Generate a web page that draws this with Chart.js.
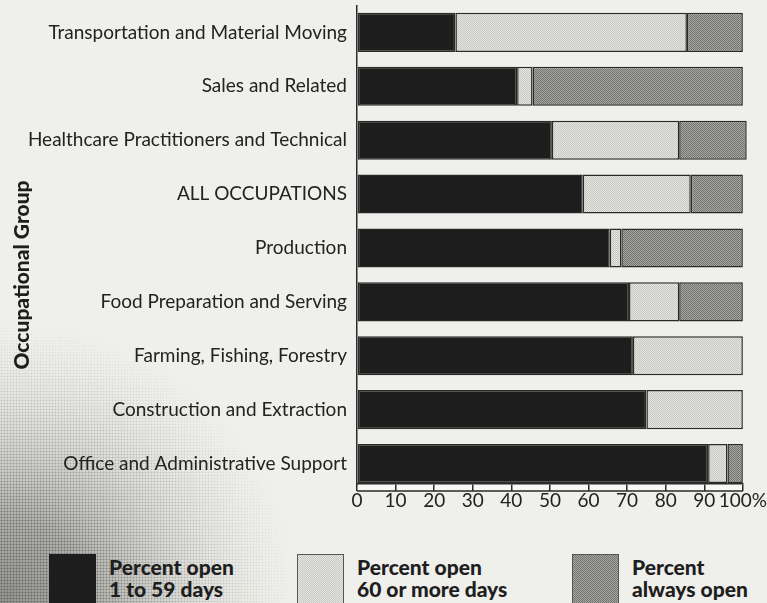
<!DOCTYPE html>
<html>
<head>
<meta charset="utf-8">
<script src="https://cdn.jsdelivr.net/npm/chart.js@4/dist/chart.umd.min.js"></script>
<style>
  html, body { margin: 0; padding: 0; }
  body {
    width: 767px; height: 603px; overflow: hidden; position: relative;
    background: #efefeb;
    font-family: Lato, "DejaVu Sans", sans-serif;
  }
  /* scanned halftone shading in the lower-left corner */
  body::before {
    content: ""; position: absolute; left: 0; bottom: 0; width: 330px; height: 300px;
    background:
      radial-gradient(circle, rgba(50,50,48,0.5) 0.8px, transparent 1.1px) 0 0 / 3px 3px,
      radial-gradient(ellipse 300px 285px at 0% 100%, rgba(140,140,136,0.95), rgba(150,150,146,0) 100%);
    -webkit-mask-image: radial-gradient(ellipse 300px 285px at 0% 100%, #000 30%, transparent 100%);
    mask-image: radial-gradient(ellipse 300px 285px at 0% 100%, #000 30%, transparent 100%);
  }
  #wrap { position: absolute; left: 0; top: 0; width: 767px; height: 512px; }
  .legend { position: absolute; top: 554px; display: flex; align-items: flex-start; }
  .legend .sw { width: 47px; height: 50px; box-sizing: border-box; border: 1px solid #555; margin-right: 13px; }
  .legend .tx { font-weight: 900; font-size: 21px; line-height: 22px; color: #1e1e1e; margin-top: 2px; }
  .sw.dark1 { background: #1d1d1d; border-color: #1d1d1d; }
  .sw.light { background: repeating-conic-gradient(#e6e6e2 0 25%, #c6c6c2 0 50%) 0 0 / 2px 2px; }
  .sw.dark2 { background: repeating-conic-gradient(#a6a6a3 0 25%, #737371 0 50%) 0 0 / 2px 2px; }
</style>
</head>
<body>
<div id="wrap"><canvas id="chart"></canvas></div>
<div class="legend" style="left:49px"><div class="sw dark1"></div><div class="tx">Percent open<br>1 to 59 days</div></div>
<div class="legend" style="left:297px"><div class="sw light"></div><div class="tx">Percent open<br>60 or more days</div></div>
<div class="legend" style="left:572px"><div class="sw dark2"></div><div class="tx">Percent<br>always open</div></div>
<script>
// Occupational groups, top to bottom
const categories = [
  'Transportation and Material Moving',
  'Sales and Related',
  'Healthcare Practitioners and Technical',
  'ALL OCCUPATIONS',
  'Production',
  'Food Preparation and Serving',
  'Farming, Fishing, Forestry',
  'Construction and Extraction',
  'Office and Administrative Support'
];
const open1to59 = [25.5, 41.5, 50.5, 58.5, 65.5, 70.5, 71.5, 75, 91];
const open60plus = [60, 4, 33, 28, 3, 13, 28.5, 25, 5];
const alwaysOpen = [14.5, 54.5, 17.5, 13.5, 31.5, 16.5, 0, 0, 4];
const xTickLabels = ['0', '10', '20', '30', '40', '50', '60', '70', '80', '90', '100%'];

// 2x2 stipple patterns to mimic the printed screens
function stipple(a, b) {
  const c = document.createElement('canvas');
  c.width = 2; c.height = 2;
  const g = c.getContext('2d');
  g.fillStyle = a; g.fillRect(0, 0, 2, 2);
  g.fillStyle = b; g.fillRect(0, 0, 1, 1); g.fillRect(1, 1, 1, 1);
  return g.createPattern(c, 'repeat');
}
const lightFill = stipple('#e6e6e2', '#c6c6c2');
const darkFill = stipple('#a6a6a3', '#737371');

const ink = '#2a2a2a';

// white ruler strip under the bars + the rotated group title
const rulerStrip = {
  id: 'rulerStrip',
  beforeDraw(chart) {
    const { ctx, chartArea } = chart;
    ctx.save();
    ctx.fillStyle = '#f8f8f6';
    ctx.fillRect(chartArea.left, chartArea.bottom, chartArea.right - chartArea.left, 7);
    ctx.restore();
  },
  afterDraw(chart) {
    const { ctx, chartArea } = chart;
    ctx.save();
    ctx.strokeStyle = ink;
    ctx.lineWidth = 1.5;
    ctx.beginPath();
    ctx.moveTo(chartArea.left, chartArea.bottom + 7);
    ctx.lineTo(chartArea.right, chartArea.bottom + 7);
    ctx.stroke();
    // axis title, sits a bit below the vertical middle in the original
    ctx.translate(22, (chartArea.top + chartArea.bottom) / 2 + 30);
    ctx.rotate(-Math.PI / 2);
    ctx.font = '900 21px Lato, "DejaVu Sans", sans-serif';
    ctx.fillStyle = '#1e1e1e';
    ctx.textAlign = 'center';
    ctx.textBaseline = 'middle';
    ctx.fillText('Occupational Group', 0, 0);
    ctx.restore();
  }
};

const barStyle = {
  borderColor: ink,
  borderWidth: 1.5,
  borderSkipped: false,
  barPercentage: 0.725,
  categoryPercentage: 1,
  clip: false
};

// the original leaves a little more room above the first bar than below the last
const padTop = 0.49, padBottom = 0.38;

new Chart(document.getElementById('chart'), {
  type: 'bar',
  data: {
    labels: categories,
    datasets: [
      { label: 'Percent open 1 to 59 days', data: open1to59, backgroundColor: '#1d1d1d', ...barStyle },
      { label: 'Percent open 60 or more days', data: open60plus, backgroundColor: lightFill, ...barStyle },
      { label: 'Percent always open', data: alwaysOpen, backgroundColor: darkFill, ...barStyle }
    ]
  },
  options: {
    indexAxis: 'y',
    responsive: true,
    maintainAspectRatio: false,
    animation: false,
    layout: { padding: { top: 6, right: 22, bottom: 2, left: 0 } },
    plugins: {
      legend: { display: false },
      tooltip: { enabled: false }
    },
    scales: {
      x: {
        stacked: true,
        min: 0,
        max: 100,
        ticks: {
          stepSize: 10,
          padding: 0,
          color: '#222',
          font: { family: 'Lato', size: 19, lineHeight: 1 },
          maxRotation: 0,
          autoSkip: false,
          callback: (v, i) => xTickLabels[i]
        },
        grid: { drawOnChartArea: false, drawTicks: true, tickLength: 7, color: ink, lineWidth: 1.5 },
        border: { display: true, color: ink, width: 1.5 }
      },
      y: {
        stacked: true,
        offset: false,
        afterBuildTicks(scale) {
          scale._startValue = -padTop;
          scale._valueRange = categories.length - 1 + padTop + padBottom;
        },
        afterFit(scale) {
          scale.width = 357;
          scale.paddingTop = 0;
          scale.paddingBottom = 0;
        },
        ticks: {
          padding: 10,
          color: '#222',
          font: { family: 'Lato', size: 19 }
        },
        grid: { drawOnChartArea: false, drawTicks: false },
        border: { display: true, color: ink, width: 1.5 }
      }
    }
  },
  plugins: [rulerStrip]
});
</script>
</body>
</html>
